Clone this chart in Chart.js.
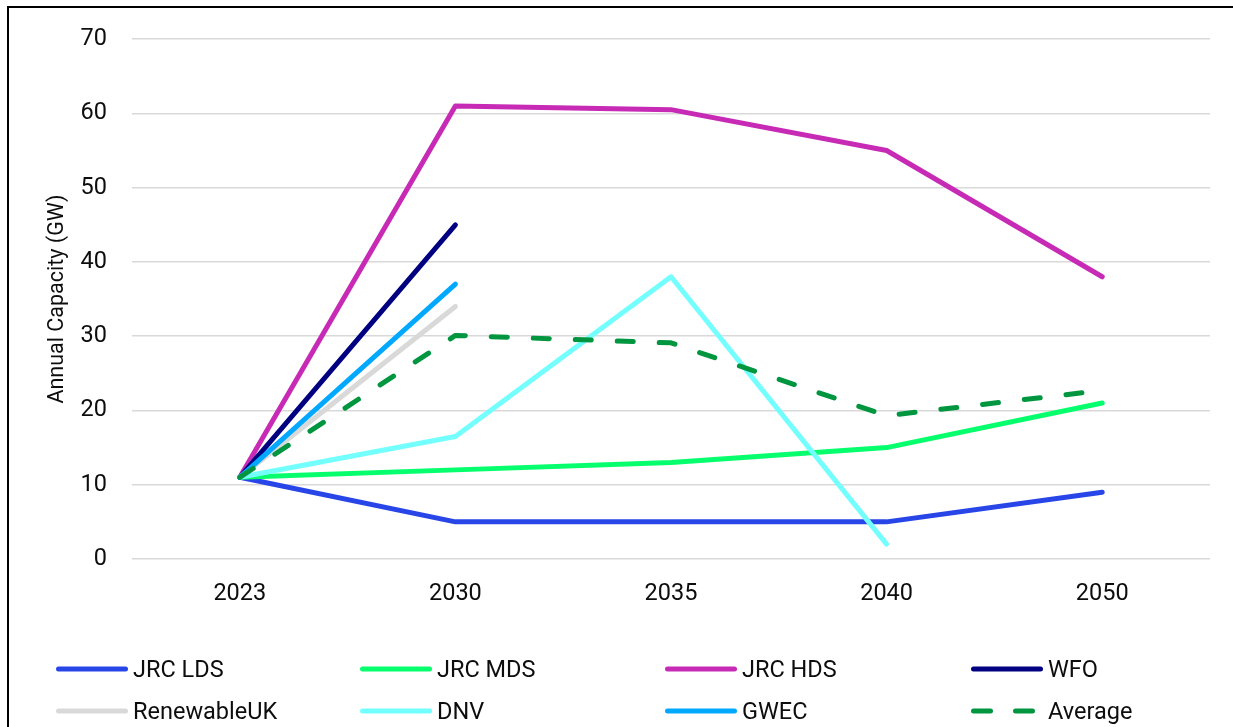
<!DOCTYPE html>
<html>
<head>
<meta charset="utf-8">
<script src="https://cdn.jsdelivr.net/npm/chart.js@4/dist/chart.umd.min.js"></script>
<style>
  html, body { margin: 0; padding: 0; background: #fff; overflow: hidden; }
  body { width: 1233px; height: 727px; position: relative; font-family: Roboto, 'Noto Sans', sans-serif; }
  .frame {
    position: absolute; left: 7px; top: 6px; width: 1300px; height: 800px;
    border-left: 2px solid #000; border-top: 2px solid #000;
  }
  .plot { position: absolute; left: 0; top: 0; width: 1233px; height: 640px; }
  .legend { position: absolute; left: 0; top: 0; width: 1233px; height: 727px; pointer-events: none; }
  .item { position: absolute; display: flex; align-items: center; height: 30px; font-size: 23.5px; color: #0d0d0d; }
  .item svg { margin-right: 5px; }
</style>
</head>
<body>
<div class="frame"></div>
<div class="plot"><canvas id="chartCap"></canvas></div>
<div class="legend" id="legend"></div>

<script>
/* global Chart */

const YEARS = ['2023', '2030', '2035', '2040', '2050'];
const Y_TICKS = [0, 10, 20, 30, 40, 50, 60, 70];

const JRC_LDS = [11, 5, 5, 5, 9];
const JRC_MDS = [11, 12, 13, 15, 21];
const JRC_HDS = [11, 61, 60.5, 55, 38];
const WFO = [11, 45, null, null, null];
const RENEWABLE_UK = [11, 34, null, null, null];
const DNV = [11, 16.5, 38, 2, null];
const GWEC = [11, 37, null, null, null];
const AVERAGE = [11, 30.1, 29.1, 19.3, 22.7];

const SERIES = [
  { label: 'JRC LDS', data: JRC_LDS, color: '#2846e8' },
  { label: 'JRC MDS', data: JRC_MDS, color: '#06ff6c' },
  { label: 'JRC HDS', data: JRC_HDS, color: '#c72ab5' },
  { label: 'WFO', data: WFO, color: '#000080' },
  { label: 'RenewableUK', data: RENEWABLE_UK, color: '#d9d9d9' },
  { label: 'DNV', data: DNV, color: '#74ffff' },
  { label: 'GWEC', data: GWEC, color: '#00a9ff' },
  { label: 'Average', data: AVERAGE, color: '#00963f', dash: [16, 26] }
];

const TEXT = '#0d0d0d';
const FONT = 'Roboto, "Noto Sans", sans-serif';

function buildDatasets() {
  // later series sit on top, as in the spreadsheet original
  return SERIES.map((s, i) => ({
    label: s.label,
    data: s.data,
    borderColor: s.color,
    backgroundColor: s.color,
    borderWidth: 5,
    borderDash: s.dash || [],
    borderCapStyle: 'round',
    borderJoinStyle: 'round',
    pointRadius: 0,
    pointHoverRadius: 0,
    tension: 0,
    fill: false,
    order: SERIES.length - i
  }));
}

function buildChart() {
  const ctx = document.getElementById('chartCap').getContext('2d');
  return new Chart(ctx, {
    type: 'line',
    data: { labels: YEARS, datasets: buildDatasets() },
    options: {
      responsive: true,
      maintainAspectRatio: false,
      animation: false,
      layout: { padding: { top: 37, right: 23, left: 0, bottom: 0 } },
      plugins: { legend: { display: false }, tooltip: { enabled: false } },
      scales: {
        x: {
          offset: true,
          grid: { display: false, drawTicks: false },
          border: { display: false },
          ticks: { color: TEXT, font: { family: FONT, size: 23.5 }, padding: 21, maxRotation: 0 },
          afterFit: (scale) => { scale.height = 81; }
        },
        y: {
          min: 0,
          max: 70,
          afterBuildTicks: (scale) => { scale.ticks = Y_TICKS.map(v => ({ value: v })); },
          grid: { color: '#d9d9d9', lineWidth: 1.5, drawTicks: false },
          border: { display: false },
          ticks: { color: TEXT, font: { family: FONT, size: 23.5 }, padding: 25 },
          title: {
            display: true,
            text: 'Annual Capacity (GW)',
            color: TEXT,
            font: { family: FONT, size: 21.5 },
            padding: { top: 45, bottom: 0 }
          },
          afterFit: (scale) => { scale.width = 132; }
        }
      }
    }
  });
}

function lineSample(s) {
  const ns = 'http://www.w3.org/2000/svg';
  const svg = document.createElementNS(ns, 'svg');
  svg.setAttribute('width', '72');
  svg.setAttribute('height', '8');
  const ln = document.createElementNS(ns, 'line');
  ln.setAttribute('x1', '2.5'); ln.setAttribute('x2', '69.5');
  ln.setAttribute('y1', '4'); ln.setAttribute('y2', '4');
  ln.setAttribute('stroke', s.color);
  ln.setAttribute('stroke-width', '5');
  ln.setAttribute('stroke-linecap', 'round');
  if (s.dash) ln.setAttribute('stroke-dasharray', '17 25');
  svg.appendChild(ln);
  return svg;
}

function buildLegend() {
  const cols = [56, 360, 665, 971];
  const rows = [654, 696];
  const box = document.getElementById('legend');
  SERIES.forEach((s, i) => {
    const el = document.createElement('div');
    el.className = 'item';
    el.style.left = cols[i % 4] + 'px';
    el.style.top = rows[Math.floor(i / 4)] + 'px';
    el.appendChild(lineSample(s));
    const span = document.createElement('span');
    span.textContent = s.label;
    el.appendChild(span);
    box.appendChild(el);
  });
}

buildChart();
buildLegend();
</script>
</body>
</html>
